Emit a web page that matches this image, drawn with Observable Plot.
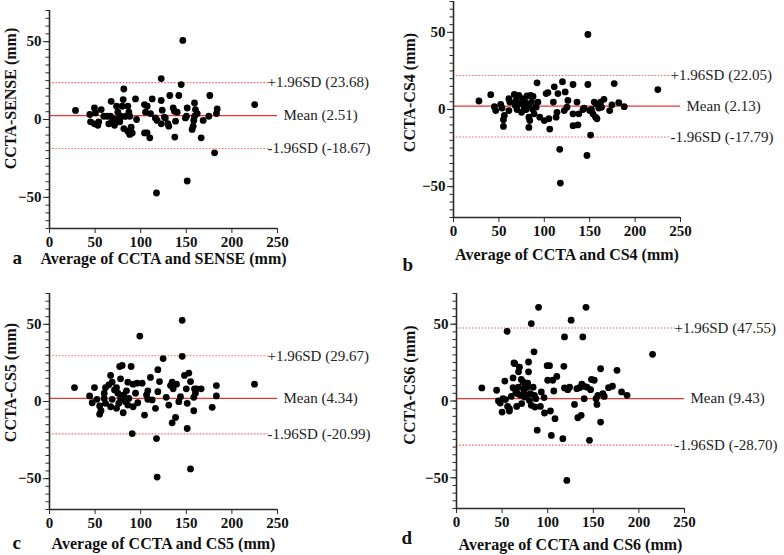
<!DOCTYPE html>
<html>
<head>
<meta charset="utf-8">
<script src="https://cdn.jsdelivr.net/npm/d3@7"></script>
<script src="https://cdn.jsdelivr.net/npm/@observablehq/plot@0.6"></script>
<style>
  html, body { margin: 0; padding: 0; background: #fff; }
  #wrap { position: relative; width: 784px; height: 555px; overflow: hidden; background: #fff; }
  .panel { position: absolute; }
</style>
</head>
<body>
<div id="wrap"></div>
<script>
// ---- data ----
const panelLetters = ["a", "b", "c", "d"];
const yTitles = ["CCTA-SENSE (mm)", "CCTA-CS4 (mm)", "CCTA-CS5 (mm)", "CCTA-CS6 (mm)"];
const xTitles = ["Average of CCTA and SENSE (mm)", "Average of CCTA and CS4 (mm)", "Average of CCTA and CS5 (mm)", "Average of CCTA and CS6 (mm)"];
const upperLoA = [23.68, 22.05, 29.67, 47.55];
const lowerLoA = [-18.67, -17.79, -20.99, -28.70];
const meanLabel = [2.51, 2.13, 4.34, 9.43];
const meanLineDrawn = [2.51, 2.13, 2.0, 1.6];   // where the red mean line is drawn in the picture
const xTicks = [0, 50, 100, 150, 200, 250];
const yTicks = [-50, 0, 50];
const yMinorTicks = [-70,-65,-60,-55,-50,-45,-40,-35,-30,-25,-20,-15,-10,-5,0,5,10,15,20,25,30,35,40,45,50,55,60,65,70];

// panel a: CCTA - SENSE  [average, difference]
const sensePts = [
 [28.5,5.8],[44.2,3.2],[49.3,7.4],[50.4,4.2],[56.7,6.4],[59.6,2.1],[63.2,2.1],[67.6,11.7],[66.9,2.1],[73.5,8.5],
 [74.9,4.7],[79.7,8.5],[81.5,19.6],[80.8,12.8],[78,2.1],[85.9,8.5],[87,4.7],[88,2.1],[94.3,13.2],[104.2,9.6],
 [107.1,8.5],[105.3,4.7],[112.6,13.2],[110.7,3.8],[122.5,26.3],[122.5,12.2],[123.6,6],[126,1.5],[131.9,15.4],[135.6,7.4],
 [137,5.3],[140,4.7],[141.8,15.4],[144.4,22.4],[146.2,50.8],[151,7.4],[150.2,2.1],[159,10.6],[160,6.4],[159,2.1],
 [162,3.8],[175.8,15.4],[174.7,2.1],[183.9,6.8],[183.1,3.8],[225,9.6],[70,0.5],[77,0.5],[83,2],[116,1],[127,1],[149,1],
 [45,-1.5],[49.3,-2.8],[53,-3.7],[54,-1.5],[65,-2.8],[68.7,-1.1],[71.3,-3.7],[74.2,0],[77.1,-1.5],[81.5,-5.8],
 [85.9,-7.5],[88,-9.6],[90.7,-8.6],[89.5,-4.9],[95.5,0],[104.2,-8.6],[107,-8.6],[110,-11.8],[118,-0.6],[122.5,-2.8],
 [129.7,-2.6],[130.8,-4.3],[138.2,-1.1],[137.4,-11.3],[151,-39.5],[156.4,-6.4],[157.5,-4.3],[158.2,-0.6],[166.3,-11.8],[168.5,-0.6],
 [181,-21.4],[117.3,-47.2]
];
// panel b: CCTA - CS4
const cs4Pts = [
 [28,5.5],[41,9.6],[45,1.8],[46.5,-0.7],[52,3.3],[53.5,0.9],[56,-3.9],[55,-6.6],[55,-11],[61,7],
 [62,4.8],[61,-0.7],[67,9.8],[68,2.6],[69,5.9],[70,0],[72,9.2],[73,3.7],[75,-1.8],[76,7],
 [78,0.9],[79,4.8],[80,0],[81,8.8],[82,3],[83,-5],[84,-7.2],[83,-11.6],[85,9.2],[86,4.8],
 [87,0.4],[87.6,8.5],[88.7,-2.8],[91,1.5],[92,17.3],[93,4.8],[95,-5],[100,-7.2],[102,10.3],[104,11],
 [105,-6],[106,-12.7],[110,4.8],[111,14.7],[113,-5],[114,-1.8],[115,10.3],[117,-25.8],[117.7,-47.7],[120,18],
 [122,-0.7],[123,11.4],[126,5.9],[125,1.5],[131.6,16.2],[131.6,-2.8],[131.6,-10.5],[136,4.8],[137,-10],[138,-2.8],
 [142.6,0],[144,0.9],[147,-29.8],[148,16.2],[148,48.6],[150,-0.7],[151,-16.6],[152,0],[153.6,-2.8],[155,4.8],
 [156.5,-5],[158,-6],[157,3.7],[160,0.9],[162,4.8],[163,1.5],[165.7,6.6],[172,-0.7],[174.5,3],[177,16.8],
 [182,4.4],[188,1.8],[225,12.9]
];
// panel c: CCTA - CS5
const cs5Pts = [
 [27.4,9],[49.3,9],[60,5.4],[61.4,9],[65,10.8],[67,16.9],[68.7,12.5],[71.3,7.5],[73.5,9],[75,5.4],
 [77,22.7],[79.7,23.4],[77.9,14.7],[81.5,4.2],[84.4,6.9],[85.9,12.5],[87,2],[89.5,22.7],[91.7,11.2],[94.3,5.4],
 [96,11.9],[99,42.4],[101.6,11.9],[106.4,4.2],[107.8,6.9],[110.7,15.6],[112.6,1],[118.8,6.4],[118.8,20.6],[120.6,12.9],
 [124.6,27.8],[132.7,10.3],[134.5,12.5],[135.6,8.2],[139.3,11.2],[145.5,52.6],[145.5,29.3],[148,16.9],[150,8.2],[152.8,18.4],
 [154.6,12.9],[159,8.2],[160,5.4],[161,8.2],[166.3,8.2],[183,10.3],[224.8,11.2],
 [44,3.6],[46.8,-0.8],[52,1.4],[55,-2.9],[56.5,-6],[55,-8.2],[60,2],[61.4,-1.2],[67,-3.4],[68.7,1.4],
 [73.5,-4.4],[76,-1.2],[77.9,2],[80.8,-7.3],[83.3,-0.1],[85.9,-2.3],[90.7,-20.8],[91.7,-3.4],[96.8,-0.8],[104.2,-8.8],
 [107.8,1.4],[116.2,-4.4],[117.3,-24],[118,-49],[128,2.7],[130.8,-2.3],[134.5,-13.8],[138.2,-10.3],[141.8,-0.1],[143.6,3.1],
 [151,-17.5],[151,-1.2],[154.6,-43.7],[158.2,-6],[158.2,2.7],[178.4,-3.8],[183,3.6]
];
// panel d: CCTA - CS6
const cs6Pts = [
 [27.8,8.5],[44,7],[46,0],[48,-1.3],[50,-7.2],[51,1.5],[53,13],[53.7,0.9],[55.5,45.4],[56,-3.5],
 [58,-6.5],[58,-5],[60,3],[62,8.7],[62,15],[63,24.8],[64,24.3],[65,5.9],[66,-3.5],[67,4.8],
 [68,19],[68,9],[69,22],[70,3.7],[71,14],[71.5,-1.7],[73,12.4],[74,7],[74.6,2.6],[75,8.7],
 [76,4],[77.5,9],[78,11.7],[79,19],[79,25.4],[80,0.4],[81,4.8],[82,-2.8],[82,50.4],[84,9],
 [85,32],[85.5,3.7],[86,-3.9],[87,1.5],[88.5,-19],[90,61],[92,-3.5],[93,5.9],[96,2.2],[96.5,-7.8],
 [99.4,23],[100,13.5],[102,23],[103,-6.5],[104,-22.4],[105.6,13.5],[106.7,6.5],[108,-11.5],[110,16],[116.6,-24.5],
 [117.7,22.6],[118.4,41.7],[118.4,8.5],[121,-51.7],[122,7.4],[124,9],[125.7,52.6],[129.4,-2.2],[132,8],[133,-10.9],
 [135,8.7],[136.7,-9.3],[137.4,10.9],[138.5,41.7],[139.6,9.6],[140,1.5],[142,61],[143,9],[145.8,-25.6],[147,7.4],
 [148,14],[151,13.5],[153,1.5],[154,-2.2],[155,3.7],[158,21],[158,-13.7],[160.5,4.8],[162,3],[166.7,8.7],
 [171,9.6],[176,20],[181,5.9],[187,3.7],[215,30.4]
];
const panelPoints = [sensePts, cs4Pts, cs5Pts, cs6Pts];

// ---- layout (pixels) ----
const layout = [
  {left: 0,   top: 0,   h: 280, ml: 49,  mr: 115, mt: 10, mb: 52, ytx: -39, yty: -21, xty: 35, lx: -37, ly: 35},
  {left: 392, top: 0,   h: 280, ml: 61,  mr: 104, mt: 1,  mb: 63, ytx: -44, yty: -17, xty: 42, lx: -51, ly: 53},
  {left: 0,   top: 280, h: 275, ml: 49,  mr: 115, mt: 13, mb: 46, ytx: -39, yty: -19, xty: 39, lx: -37, ly: 39},
  {left: 392, top: 280, h: 275, ml: 64,  mr: 100, mt: 13, mb: 47, ytx: -47, yty: -16, xty: 41, lx: -55, ly: 35}
];

const serif = "'Liberation Serif', 'Times New Roman', serif";
const axisColor = "#2a2a2a";

function makePanel(i) {
  const L = layout[i];
  const pts = panelPoints[i].map(([x, y]) => ({x, y}));
  const f2 = v => v.toFixed(2);
  return Plot.plot({
    width: 392, height: L.h,
    marginLeft: L.ml, marginRight: L.mr, marginTop: L.mt, marginBottom: L.mb,
    x: {domain: [0, 250], label: null},
    y: {domain: [-70, 70], label: null},
    style: {fontFamily: serif, fontSize: "15px", fontWeight: "bold", color: "#111", background: "transparent", overflow: "visible"},
    marks: [
      Plot.ruleY([upperLoA[i], lowerLoA[i]], {x1: 0, x2: 240, stroke: "#f06a6a", strokeWidth: 1.1, strokeDasharray: "1.6,1.6"}),
      Plot.ruleY([meanLineDrawn[i]], {x1: 0, x2: 250, stroke: "#ec3535", strokeWidth: 1.3}),
      Plot.dot(pts, {x: "x", y: "y", r: 3.4, fill: "#000", stroke: "none"}),
      Plot.axisY({ticks: yMinorTicks, tickSize: 3.5, tickFormat: () => "", stroke: axisColor, label: null}),
      Plot.axisY({ticks: yTicks, tickSize: 6, tickPadding: 2, stroke: axisColor, label: null, fontSize: 15}),
      Plot.axisX({ticks: xTicks, tickSize: 5, tickPadding: 3, stroke: axisColor, label: null, fontSize: 15}),
      Plot.ruleX([0], {stroke: axisColor, strokeWidth: 1.6}),
      Plot.ruleY([-70], {stroke: axisColor, strokeWidth: 1.6}),
      Plot.text([`+1.96SD (${f2(upperLoA[i])})`], {frameAnchor: "right", y: [upperLoA[i]], dx: -10, textAnchor: "start", fontWeight: "normal", fontSize: 15, fill: "#222"}),
      Plot.text([`Mean (${f2(meanLabel[i])})`], {frameAnchor: "right", y: [meanLineDrawn[i]], dx: 6, textAnchor: "start", fontWeight: "normal", fontSize: 15, fill: "#222"}),
      Plot.text([`-1.96SD (${f2(lowerLoA[i])})`], {frameAnchor: "right", y: [lowerLoA[i]], dx: -10, textAnchor: "start", fontWeight: "normal", fontSize: 15, fill: "#222"}),
      Plot.text([yTitles[i]], {frameAnchor: "left", dx: L.ytx, dy: L.yty, rotate: -90, textAnchor: "middle", fontSize: 16, fontWeight: "bold", fill: "#111"}),
      Plot.text([xTitles[i]], {frameAnchor: "bottom", dy: L.xty, textAnchor: "middle", fontSize: 16, fontWeight: "bold", fill: "#111"}),
      Plot.text([panelLetters[i]], {frameAnchor: "bottom-left", dx: L.lx, dy: L.ly, textAnchor: "start", fontSize: 19, fontWeight: "bold", fill: "#111"})
    ]
  });
}

const wrap = document.getElementById("wrap");
for (let i = 0; i < 4; i++) {
  const d = document.createElement("div");
  d.className = "panel";
  d.style.left = layout[i].left + "px";
  d.style.top = layout[i].top + "px";
  d.appendChild(makePanel(i));
  wrap.appendChild(d);
}
</script>
</body>
</html>
